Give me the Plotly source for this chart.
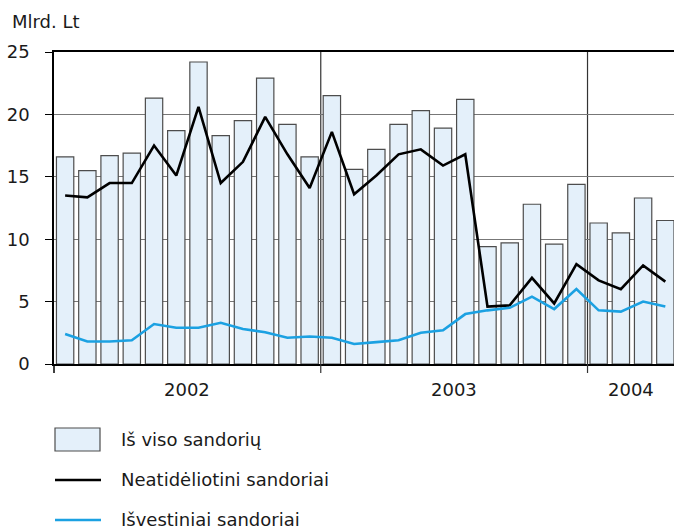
import plotly.graph_objects as go

# ---- data ----
months_idx = list(range(28))  # Jan 2002 .. Apr 2004
total = [16.6, 15.5, 16.7, 16.9, 21.3, 18.7, 24.2, 18.3, 19.5, 22.9, 19.2, 16.6,
         21.5, 15.6, 17.2, 19.2, 20.3, 18.9, 21.2, 9.4, 9.7, 12.8, 9.6, 14.4,
         11.3, 10.5, 13.3, 11.5]
spot = [13.5, 13.35, 14.5, 14.5, 17.5, 15.1, 20.6, 14.5, 16.2, 19.8, 16.8, 14.1,
        18.6, 13.6, 15.1, 16.8, 17.2, 15.9, 16.8, 4.6, 4.7, 6.9, 4.85, 8.0,
        6.7, 6.0, 7.9, 6.6]
deriv = [2.4, 1.8, 1.8, 1.9, 3.2, 2.9, 2.9, 3.3, 2.8, 2.55, 2.1, 2.2,
         2.1, 1.6, 1.75, 1.9, 2.5, 2.7, 4.0, 4.3, 4.5, 5.4, 4.4, 6.0,
         4.3, 4.2, 5.0, 4.6]
years = ["2002", "2003", "2004"]
year_centers = [5.5, 17.5, 25.45]
year_bounds = [11.5, 23.5]
legend_names = ["Iš viso sandorių", "Neatidėliotini sandoriai", "Išvestiniai sandoriai"]
y_ticks = [0, 5, 10, 15, 20, 25]

# ---- layout geometry (body margin removed, figure fills the window) ----
OFF = 0
W, H = 674, 532
L, R, T, B = 54, 0, 52, 168
FONT = "DejaVu Sans"
FS = 18
BAR_FILL = "#E4F0FA"
BAR_LINE = "#4d4d4d"
BLUE = "#1BA1E2"
TXT = "#1a1a1a"
LEG_DY = -4  # keeps the last legend entry inside the page

def px2paper_x(sx):
    return (sx - OFF - L) / (W - L - R)

def px2paper_y(sy):
    return (H - B - (sy - OFF)) / (H - T - B)

fig = go.Figure()
fig.add_trace(go.Bar(x=months_idx, y=total, width=0.78,
                     marker=dict(color=BAR_FILL, line=dict(color=BAR_LINE, width=1.2)),
                     name=legend_names[0], showlegend=False))
fig.add_trace(go.Scatter(x=months_idx, y=spot, mode="lines",
                         line=dict(color="black", width=2.6),
                         name=legend_names[1], showlegend=False))
fig.add_trace(go.Scatter(x=months_idx, y=deriv, mode="lines",
                         line=dict(color=BLUE, width=2.6),
                         name=legend_names[2], showlegend=False))

shapes = []
for xb in year_bounds:
    shapes.append(dict(type="line", xref="x", yref="paper", x0=xb, x1=xb, y0=0, y1=1,
                       line=dict(color="#333333", width=1.2), layer="below"))
    shapes.append(dict(type="line", xref="x", yref="paper", x0=xb, x1=xb,
                       y0=0, y1=px2paper_y(373), line=dict(color="#333333", width=1.2)))
shapes.append(dict(type="line", xref="paper", yref="paper", x0=0, x1=0,
                   y0=0, y1=px2paper_y(373), line=dict(color="black", width=1.5)))

annotations = []
for yr, xc in zip(years, year_centers):
    annotations.append(dict(x=xc, xref="x", y=px2paper_y(389), yref="paper",
                            text=yr, showarrow=False, xanchor="center", yanchor="middle",
                            font=dict(family=FONT, size=FS, color=TXT)))
annotations.append(dict(x=px2paper_x(10), xref="paper", y=px2paper_y(22), yref="paper",
                        text="Mlrd. Lt", showarrow=False, xanchor="left", yanchor="middle",
                        font=dict(family=FONT, size=FS, color=TXT)))

# custom legend
shapes.append(dict(type="rect", xref="paper", yref="paper",
                   x0=px2paper_x(55), x1=px2paper_x(100),
                   y0=px2paper_y(455 + LEG_DY), y1=px2paper_y(432 + LEG_DY),
                   fillcolor=BAR_FILL, line=dict(color=BAR_LINE, width=1.2)))
shapes.append(dict(type="line", xref="paper", yref="paper",
                   x0=px2paper_x(55), x1=px2paper_x(101),
                   y0=px2paper_y(484 + LEG_DY), y1=px2paper_y(484 + LEG_DY),
                   line=dict(color="black", width=2.6)))
shapes.append(dict(type="line", xref="paper", yref="paper",
                   x0=px2paper_x(55), x1=px2paper_x(101),
                   y0=px2paper_y(524 + LEG_DY), y1=px2paper_y(524 + LEG_DY),
                   line=dict(color=BLUE, width=2.6)))
for name, yc in zip(legend_names, [443, 483, 523]):
    annotations.append(dict(x=px2paper_x(119), xref="paper", y=px2paper_y(yc + LEG_DY), yref="paper",
                            text=name, showarrow=False, xanchor="left", yanchor="middle",
                            font=dict(family=FONT, size=FS, color=TXT)))

fig.update_layout(
    width=W, height=H,
    margin=dict(l=L, r=R, t=T, b=B, pad=0),
    paper_bgcolor="white", plot_bgcolor="white",
    shapes=shapes, annotations=annotations,
    showlegend=False,
    font=dict(family=FONT, size=FS, color=TXT),
)
fig.update_xaxes(range=[-0.5, 27.39], showgrid=False, zeroline=False,
                 showticklabels=False, ticks="",
                 showline=True, linecolor="black", linewidth=1.5, mirror=True)
fig.update_yaxes(range=[0, 25], tickvals=y_ticks, showgrid=True, gridcolor="#777777",
                 gridwidth=1.3, zeroline=False, showline=True, linecolor="black",
                 linewidth=1.5, ticks="outside", ticklen=7, tickcolor="black",
                 tickwidth=1.2, ticklabelstandoff=12,
                 tickfont=dict(family=FONT, size=FS, color=TXT))

fig.write_html(
    "out.html",
    config={"displayModeBar": False},
    post_script="document.body.style.margin='0';"
                "document.documentElement.style.overflow='hidden';",
)
